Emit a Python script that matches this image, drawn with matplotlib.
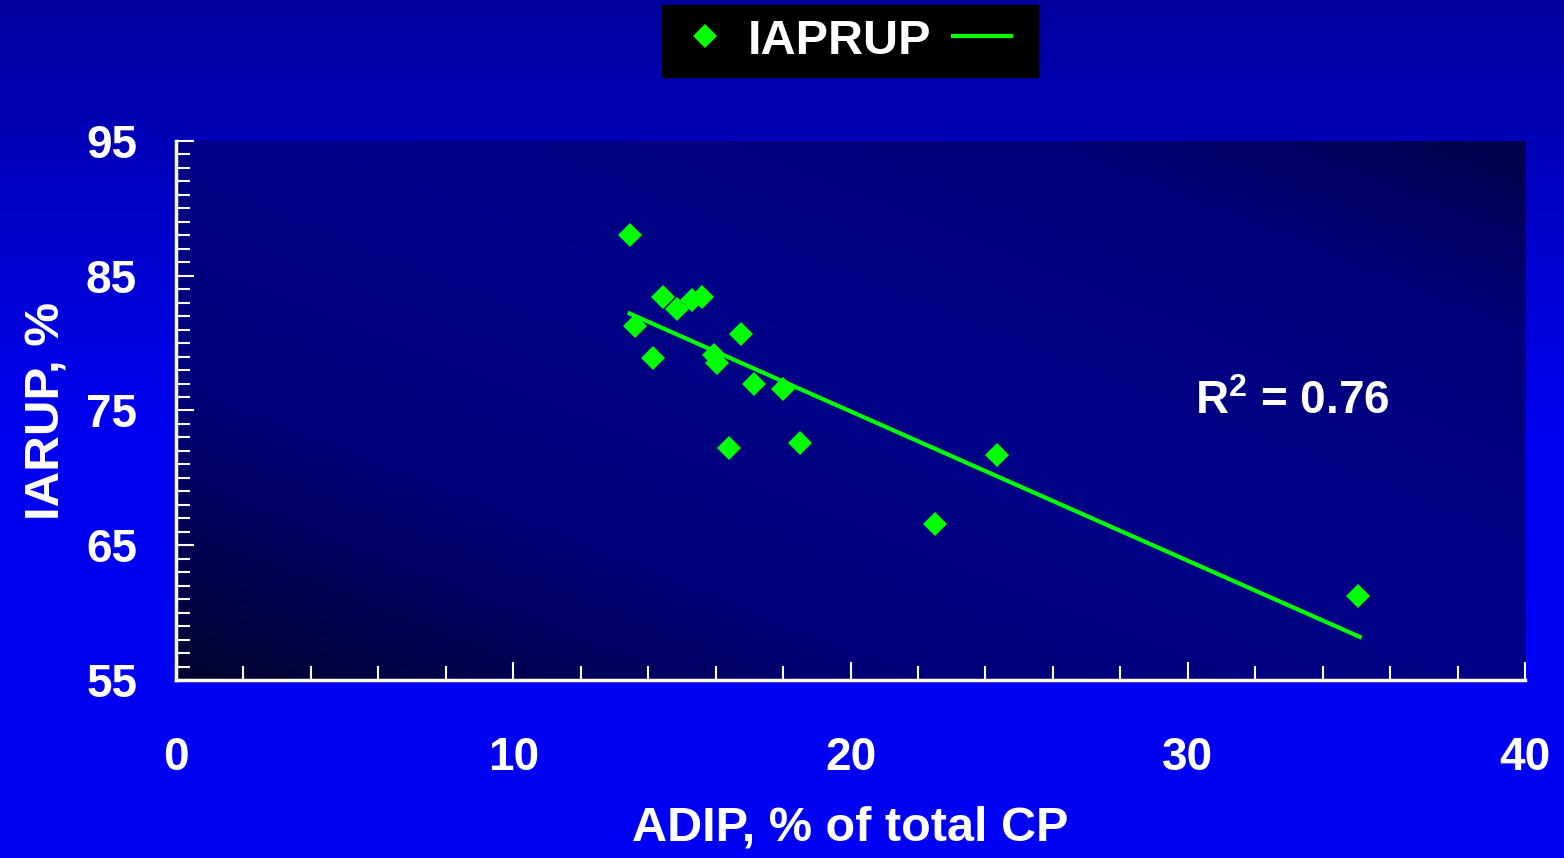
import numpy as np
import matplotlib.pyplot as plt
from matplotlib.colors import LinearSegmentedColormap
from matplotlib.ticker import MultipleLocator

# points
adip = [13.45, 13.6, 14.15, 14.45, 14.85, 15.3, 15.6, 15.95, 16.05, 16.4,
        16.75, 17.15, 18.0, 18.5, 22.5, 24.35, 35.05]
iarup = [88.0, 81.3, 78.9, 83.4, 82.5, 83.2, 83.4, 79.1, 78.5, 72.2,
         80.7, 77.0, 76.6, 72.6, 66.6, 71.7, 61.2]

# linear trendline ends
trend_x = [13.45, 35.1]
trend_y = [82.2, 58.2]

x_ticks = [0, 10, 20, 30, 40]
y_ticks = [55, 65, 75, 85, 95]

r2_text = "R$^2$ = 0.76"
series_name = "IAPRUP"

plt.rcParams['font.family'] = ['Liberation Sans', 'DejaVu Sans']
plt.rcParams['font.weight'] = 'bold'
plt.rcParams['mathtext.fontset'] = 'custom'
plt.rcParams['mathtext.rm'] = 'Liberation Sans:bold'
plt.rcParams['mathtext.default'] = 'rm'

W, H = 1564, 858
fig = plt.figure(figsize=(W / 100, H / 100), dpi=100)

# slide background: vertical blue gradient
bg = fig.add_axes([0, 0, 1, 1], zorder=-10)
bg_cmap = LinearSegmentedColormap.from_list('bg', ['#0000f5', '#0000f0', '#00009e'])
grad = np.linspace(0, 1, 256).reshape(-1, 1)
bg.imshow(grad, aspect='auto', cmap=bg_cmap, extent=[0, 1, 0, 1], origin='lower')
bg.axis('off')

pos = [176 / W, 1 - 680 / H, (1525 - 176) / W, (680 - 141) / H]

# plot area: diagonal dark-light-dark gradient
pa = fig.add_axes(pos, zorder=-5)
xx, yy = np.meshgrid(np.linspace(0, 1, 300), np.linspace(0, 1, 150))
u = (xx + yy) / 2
shade = 1 - np.abs(u - 0.55) / 0.55
pa_cmap = LinearSegmentedColormap.from_list('pa', ['#03032e', '#00007a', '#000088'])
pa.imshow(shade, aspect='auto', cmap=pa_cmap, extent=[0, 1, 0, 1], origin='lower')
pa.axis('off')

ax = fig.add_axes(pos)
ax.patch.set_visible(False)

pts, = ax.plot(adip, iarup, linestyle='none', marker='D', ms=12.5,
               color='#00ff00', markeredgewidth=0, zorder=3)
trend, = ax.plot(trend_x, trend_y, color='#00ff00', lw=3, zorder=2)

ax.set_xlim(0, 40)
ax.set_ylim(55, 95)
ax.set_xticks(x_ticks)
ax.set_yticks(y_ticks)
ax.xaxis.set_minor_locator(MultipleLocator(2))
ax.yaxis.set_minor_locator(MultipleLocator(1))

for s in ['top', 'right']:
    ax.spines[s].set_visible(False)
for s in ['left', 'bottom']:
    ax.spines[s].set_color('white')
    ax.spines[s].set_linewidth(2.5)

ax.tick_params(which='both', direction='in', colors='white', width=1.5)
ax.tick_params(which='major', length=13)
ax.tick_params(which='minor', length=10)
ax.tick_params(axis='x', which='major', pad=40, labelsize=33)
ax.tick_params(axis='y', which='major', pad=28, labelsize=33)
for lab in ax.get_xticklabels() + ax.get_yticklabels():
    lab.set_fontweight('bold')

ax.set_xlabel('ADIP, % of total CP', fontsize=35, fontweight='bold',
              color='white', labelpad=19)
ax.set_ylabel('IARUP, %', fontsize=35.5, fontweight='bold', color='white',
              labelpad=12)

ax.text(33.1, 75.6, r2_text, fontsize=33, fontweight='bold', color='white',
        ha='center', va='center')

leg = fig.legend([pts, trend], [series_name, ''], ncol=2, loc='center',
                 bbox_to_anchor=(850 / W, 1 - 41 / H), fontsize=35,
                 facecolor='black', edgecolor='black', framealpha=1,
                 fancybox=False, handlelength=1.2, handletextpad=0.28,
                 columnspacing=0.45, borderpad=0.28)
for t in leg.get_texts():
    t.set_color('white')
    t.set_fontweight('bold')

fig.savefig('out.png', dpi=100)
